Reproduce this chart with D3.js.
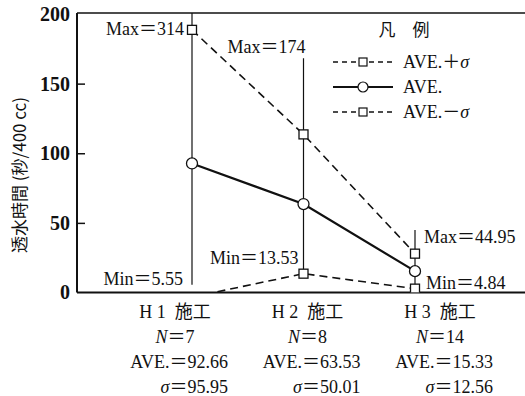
<!doctype html>
<meta charset="utf-8">
<script src="https://d3js.org/d3.v7.min.js"></script>
<style>
body { margin: 0; background: #fff; }
text { font-family: "Liberation Serif", "Times New Roman", "DejaVu Serif", "Noto Sans CJK JP", serif; fill: #111; white-space: pre; }
.cjk { font-family: "Noto Sans CJK JP", sans-serif; }
</style>
<body>
<script>

var width = 525;
var height = 396;

// data
var categories = ["H1", "H2", "H3"];
var catLabels = ["H 1  施工", "H 2  施工", "H 3  施工"];
var counts = [7, 8, 14];
var aveValues = [92.66, 63.53, 15.33];
var sigmaValues = [95.95, 50.01, 12.56];
var plusSigma = [188.61, 113.54, 27.89];
var minusSigma = [-3.29, 13.52, 2.77];
var maxValues = [314, 174, 44.95];
var minValues = [5.55, 13.53, 4.84];
var maxLabels = ["314", "174", "44.95"];
var minLabels = ["5.55", "13.53", "4.84"];
var yTicks = [0, 50, 100, 150, 200];

var x = d3.scalePoint().domain(categories).range([192, 415]);
var xText = d3.scalePoint().domain(categories).range([175, 440]);
var y = d3.scaleLinear().domain([0, 200]).range([292.5, 14]);
var plotLeft = 77, plotRight = 525, plotTop = 13;

var svg = d3.select("body").append("svg")
    .attr("width", width)
    .attr("height", height);

svg.append("defs").append("clipPath").attr("id", "plot")
    .append("rect").attr("x", plotLeft).attr("y", plotTop)
    .attr("width", plotRight - plotLeft).attr("height", y(0) - plotTop);

// frame
svg.append("line").attr("x1", plotLeft).attr("x2", plotRight).attr("y1", plotTop).attr("y2", plotTop)
    .style("stroke", "#111").style("stroke-width", 1.5);
svg.append("line").attr("x1", plotLeft).attr("x2", plotRight).attr("y1", y(0)).attr("y2", y(0))
    .style("stroke", "#111").style("stroke-width", 2);

var yAxis = svg.append("g")
    .attr("transform", "translate(" + plotLeft + ",0)")
    .call(d3.axisLeft(y).tickValues(yTicks).tickSizeInner(-8).tickSizeOuter(0).tickPadding(6));
yAxis.select(".domain").attr("d", "M0," + plotTop + "V" + y(0))
    .style("stroke", "#111").style("stroke-width", 2);
yAxis.selectAll(".tick line").style("stroke", "#111").style("stroke-width", 1.5)
    .filter(function(d) { return d === 0 || d === 200; }).remove();
yAxis.selectAll(".tick text")
    .style("font-family", "'Liberation Serif', 'Times New Roman', serif")
    .style("font-size", "20px").style("font-weight", "bold").style("fill", "#111")
    .attr("dx", "-1");

svg.append("text").attr("class", "cjk")
    .attr("transform", "translate(26,175) rotate(-90)")
    .attr("text-anchor", "middle")
    .style("font-size", "17px")
    .text("透水時間 (秒/400 cc)");

var g = svg.append("g").attr("clip-path", "url(#plot)");

// max-min range lines
var rangeTopOffset = [0, 8, 0];
categories.forEach(function(c, i) {
    g.append("line")
        .attr("x1", x(c)).attr("x2", x(c))
        .attr("y1", y(maxValues[i]) + rangeTopOffset[i]).attr("y2", y(minValues[i]))
        .style("stroke", "#111").style("stroke-width", 1.2);
});

var line = d3.line().x(function(d, i) { return x(categories[i]); }).y(function(d) { return y(d); });

g.append("path").datum(plusSigma).attr("d", line)
    .style("fill", "none").style("stroke", "#111").style("stroke-width", 1.6).style("stroke-dasharray", "8,5");
g.append("path").datum(minusSigma).attr("d", line)
    .style("fill", "none").style("stroke", "#111").style("stroke-width", 1.6).style("stroke-dasharray", "8,5");
g.append("path").datum(aveValues).attr("d", line)
    .style("fill", "none").style("stroke", "#111").style("stroke-width", 2.2);

function squares(vals) {
    g.selectAll(null).data(vals.map(function(v, i) { return [categories[i], v]; })
            .filter(function(d) { return d[1] >= 0; }))
        .enter().append("rect")
        .attr("x", function(d) { return x(d[0]) - 4.5; })
        .attr("y", function(d) { return y(d[1]) - 4.5; })
        .attr("width", 9).attr("height", 9)
        .style("fill", "#fff").style("stroke", "#111").style("stroke-width", 1.3);
}
squares(plusSigma);
squares(minusSigma);
g.selectAll(null).data(aveValues).enter().append("circle")
    .attr("cx", function(d, i) { return x(categories[i]); })
    .attr("cy", function(d) { return y(d); })
    .attr("r", 5.5)
    .style("fill", "#fff").style("stroke", "#111").style("stroke-width", 1.3);

// max / min labels
var maxPlace = [{dx: -8, dy: 21, anchor: "end"}, {dx: 2, dy: 3, anchor: "end"}, {dx: 9, dy: 13, anchor: "start"}];
var minPlace = [{dx: -9, dy: 0, anchor: "end"}, {dx: -5, dy: -10, anchor: "end"}, {dx: 11, dy: 3, anchor: "start"}];
categories.forEach(function(c, i) {
    svg.append("text")
        .attr("x", x(c) + maxPlace[i].dx)
        .attr("y", y(Math.min(maxValues[i], 200)) + maxPlace[i].dy)
        .attr("text-anchor", maxPlace[i].anchor)
        .style("font-size", "18px")
        .text("Max＝" + maxLabels[i]);
    svg.append("text")
        .attr("x", x(c) + minPlace[i].dx)
        .attr("y", y(minValues[i]) + minPlace[i].dy)
        .attr("text-anchor", minPlace[i].anchor)
        .style("font-size", "18px")
        .text("Min＝" + minLabels[i]);
});

// bottom labels
categories.forEach(function(c, i) {
    var cx = xText(c);
    svg.append("text").attr("x", cx).attr("y", 318).attr("text-anchor", "middle")
        .style("font-size", "18px").text(catLabels[i]);
    var n = svg.append("text").attr("x", cx).attr("y", 343).attr("text-anchor", "middle")
        .style("font-size", "18px");
    n.append("tspan").style("font-style", "italic").text("N");
    n.append("tspan").text("＝" + counts[i]);
    svg.append("text").attr("x", cx + 53).attr("y", 368).attr("text-anchor", "end")
        .style("font-size", "18px").text("AVE.＝" + aveValues[i].toFixed(2));
    var s = svg.append("text").attr("x", cx + 53).attr("y", 393).attr("text-anchor", "end")
        .style("font-size", "18px");
    s.append("tspan").style("font-style", "italic").text("σ");
    s.append("tspan").text("＝" + sigmaValues[i].toFixed(2));
});

// legend
var legendNames = ["AVE.＋σ", "AVE.", "AVE.－σ"];
var legendDash = ["5,4", null, "5,4"];
var legendMark = ["square", "circle", "square"];
var legendY = [62, 87, 112];
svg.append("text").attr("class", "cjk").attr("x", 404).attr("y", 36).attr("text-anchor", "middle")
    .style("font-size", "17px").text("凡　例");
legendNames.forEach(function(name, i) {
    var ly = legendY[i];
    svg.append("line").attr("x1", 333).attr("x2", 393).attr("y1", ly).attr("y2", ly)
        .style("stroke", "#111").style("stroke-width", legendDash[i] ? 1.6 : 2.2)
        .style("stroke-dasharray", legendDash[i]);
    if (legendMark[i] === "square") {
        svg.append("rect").attr("x", 359).attr("y", ly - 4).attr("width", 8).attr("height", 8)
            .style("fill", "#fff").style("stroke", "#111").style("stroke-width", 1.2);
    } else {
        svg.append("circle").attr("cx", 363).attr("cy", ly).attr("r", 5)
            .style("fill", "#fff").style("stroke", "#111").style("stroke-width", 1.2);
    }
    var t = svg.append("text").attr("x", 403).attr("y", ly + 6).style("font-size", "18px");
    var parts = name.split("σ");
    t.append("tspan").text(parts[0]);
    if (name.indexOf("σ") >= 0) t.append("tspan").style("font-style", "italic").text("σ");
});

</script>
